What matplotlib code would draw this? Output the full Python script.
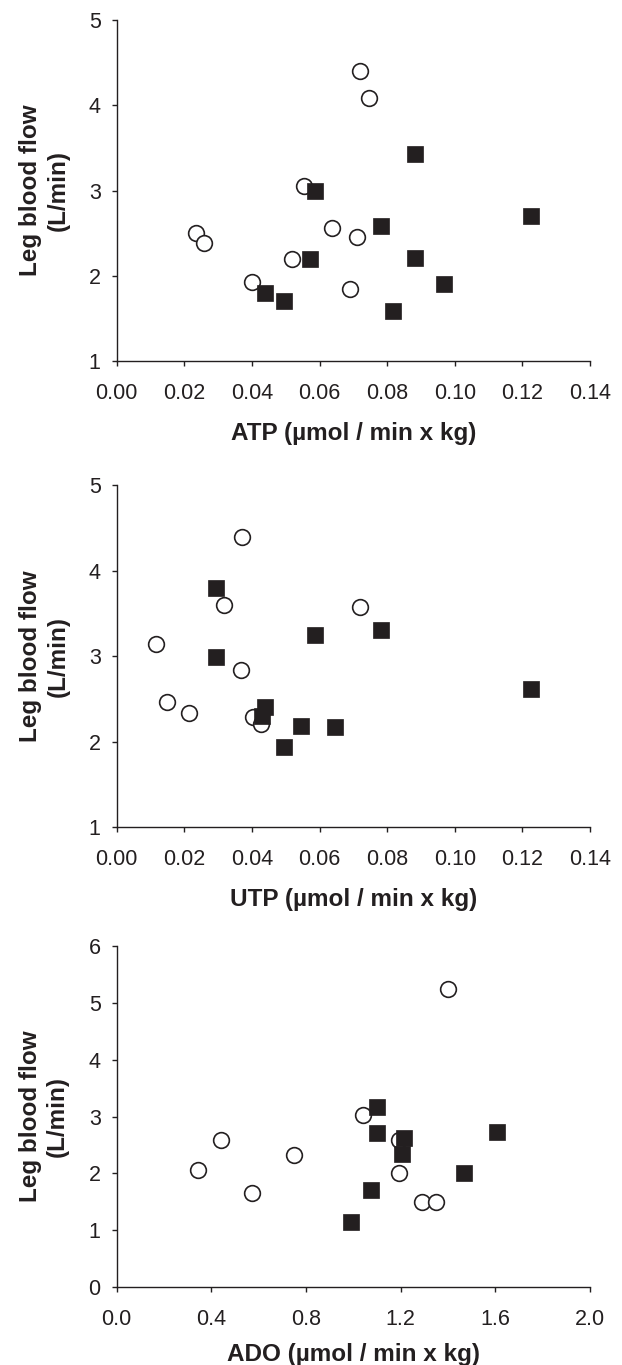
"""Leg blood flow vs. plasma ATP / UTP / ADO infusion rate, three stacked scatter panels."""
import matplotlib
matplotlib.use("Agg")
import matplotlib.pyplot as plt

plt.rcParams["font.family"] = ["Liberation Sans", "DejaVu Sans"]

INK = "#231f20"

# ATP panel
atp_open_x = [0.0719, 0.0747, 0.0554, 0.0234, 0.0259, 0.0636, 0.0711, 0.0518, 0.0400, 0.0690]
atp_open_y = [4.40, 4.08, 3.05, 2.50, 2.39, 2.56, 2.45, 2.20, 1.93, 1.84]
atp_fill_x = [0.0882, 0.0586, 0.0781, 0.1225, 0.0573, 0.0882, 0.0440, 0.0494, 0.0969, 0.0818]
atp_fill_y = [3.43, 3.00, 2.58, 2.70, 2.20, 2.21, 1.80, 1.71, 1.90, 1.59]

# UTP panel
utp_open_x = [0.0372, 0.0317, 0.0719, 0.0116, 0.0369, 0.0148, 0.0213, 0.0402, 0.0426]
utp_open_y = [4.39, 3.60, 3.57, 3.14, 2.84, 2.46, 2.34, 2.29, 2.20]
utp_fill_x = [0.0294, 0.0294, 0.0586, 0.0781, 0.1225, 0.0440, 0.0429, 0.0545, 0.0646, 0.0494]
utp_fill_y = [3.80, 2.99, 3.25, 3.31, 2.61, 2.40, 2.30, 2.18, 2.17, 1.94]

# ADO panel
ado_open_x = [1.400, 1.040, 0.440, 0.750, 0.345, 0.571, 1.191, 1.192, 1.292, 1.350]
ado_open_y = [5.24, 3.02, 2.58, 2.33, 2.06, 1.65, 2.58, 2.01, 1.50, 1.50]
ado_fill_x = [1.101, 1.101, 1.212, 1.206, 1.607, 1.466, 1.074, 0.989]
ado_fill_y = [3.17, 2.71, 2.62, 2.35, 2.72, 2.00, 1.71, 1.14]

PANELS = [
    (atp_open_x, atp_open_y, atp_fill_x, atp_fill_y, "ATP (µmol / min x kg)",
     [0.00, 0.02, 0.04, 0.06, 0.08, 0.10, 0.12, 0.14], "{:.2f}", [1, 2, 3, 4, 5]),
    (utp_open_x, utp_open_y, utp_fill_x, utp_fill_y, "UTP (µmol / min x kg)",
     [0.00, 0.02, 0.04, 0.06, 0.08, 0.10, 0.12, 0.14], "{:.2f}", [1, 2, 3, 4, 5]),
    (ado_open_x, ado_open_y, ado_fill_x, ado_fill_y, "ADO (µmol / min x kg)",
     [0.0, 0.4, 0.8, 1.2, 1.6, 2.0], "{:.1f}", [0, 1, 2, 3, 4, 5, 6]),
]
# axes boxes in figure fractions: left, bottom, width, height
BOXES = [(0.1876, 0.7355, 0.761, 0.2498),
         (0.1876, 0.3941, 0.761, 0.2505),
         (0.1876, 0.0571, 0.761, 0.2498)]
XLABEL_PAD = [13.5, 13.5, 9.5]   # bottom one pulled up so it stays inside the figure


def main():
    fig = plt.figure(figsize=(6.22, 13.65), dpi=100)
    for box, lpad, (ox, oy, fx, fy, xlabel, xt, fmt, yt) in zip(BOXES, XLABEL_PAD, PANELS):
        ax = fig.add_axes(box)
        ax.plot(ox, oy, ls="none", marker="o", ms=11.3, mfc="white", mec=INK, mew=1.2,
                clip_on=False, zorder=3)
        ax.plot(fx, fy, ls="none", marker="s", ms=11.5, mfc=INK, mec=INK, mew=0.5,
                clip_on=False, zorder=4)
        ax.set_xlim(xt[0], xt[-1])
        ax.set_ylim(yt[0], yt[-1])
        ax.set_xticks(xt)
        ax.set_xticklabels([fmt.format(v) for v in xt])
        ax.set_yticks(yt)
        for s in ("top", "right"):
            ax.spines[s].set_visible(False)
        for s in ("left", "bottom"):
            ax.spines[s].set_linewidth(1.0)
            ax.spines[s].set_color(INK)
        ax.tick_params(direction="out", length=3.5, width=1.0, color=INK,
                       labelsize=15.5, labelcolor=INK)
        ax.tick_params(axis="x", pad=12)
        ax.tick_params(axis="y", pad=8)
        ax.set_xlabel(xlabel, fontsize=17.5, fontweight="bold", color=INK, labelpad=lpad)
        ax.set_ylabel("Leg blood flow\n(L/min)", fontsize=17.5, fontweight="bold",
                      color=INK, labelpad=14, linespacing=1.25)
    fig.savefig("out.png", dpi=100)


if __name__ == "__main__":
    main()
